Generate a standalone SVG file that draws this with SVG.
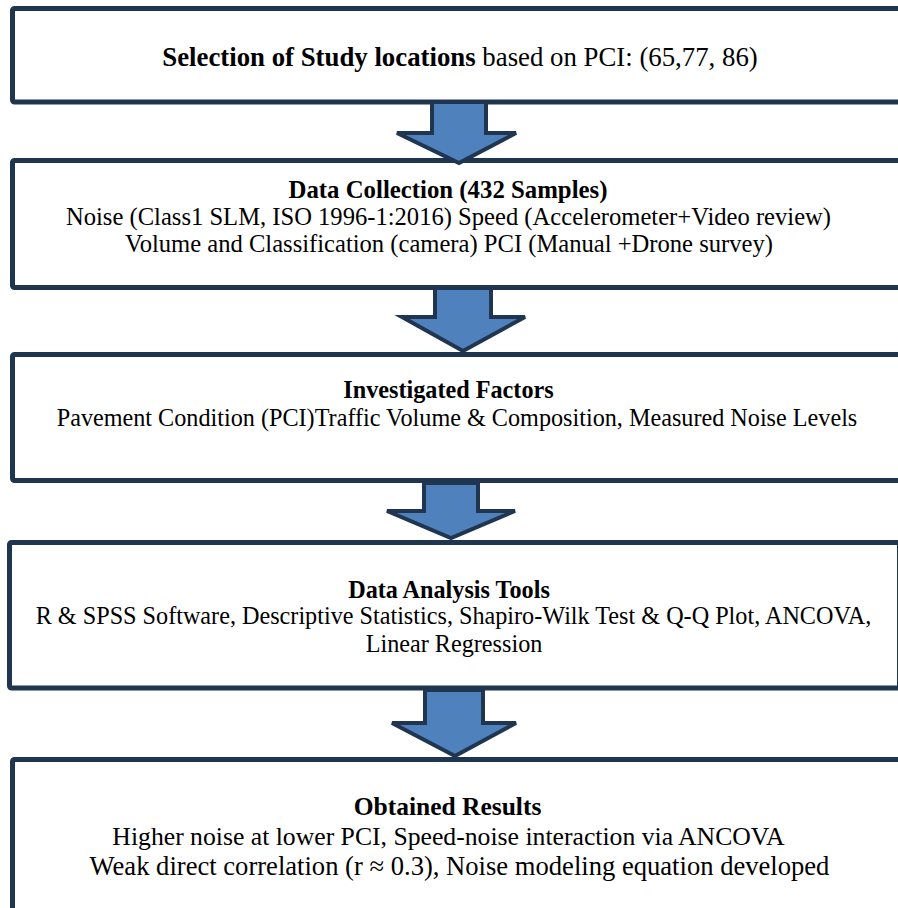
<svg xmlns="http://www.w3.org/2000/svg" width="898" height="908" viewBox="0 0 898 908">
<style>
.box{fill:#ffffff;stroke:#1f3550;stroke-width:5}
.arr{fill:#4f81bd;stroke:#1f3550;stroke-width:4;stroke-linejoin:miter}
text{font-family:"Liberation Serif","Times New Roman",serif;font-size:24.2px;fill:#000;text-anchor:middle}
.b{font-weight:bold}
</style>
<rect width="898" height="908" fill="#ffffff"/>
<g id="n1"><rect class="box" x="12.5" y="8.5" width="900" height="93.5" rx="2"/>
<text x="460" y="66" style="font-size:26.8px"><tspan class="b">Selection of Study locations</tspan> based on PCI: (65,77, 86)</text></g>
<g id="n2"><rect class="box" x="12.5" y="160.5" width="900" height="127" rx="2"/>
<text class="b" x="448" y="197.5" style="font-size:24.8px">Data Collection (432 Samples)</text>
<text x="448.5" y="225" style="font-size:24.6px">Noise (Class1 SLM, ISO 1996-1:2016) Speed (Accelerometer+Video review)</text>
<text x="449" y="251.5" style="font-size:24.6px">Volume and Classification (camera) PCI (Manual +Drone survey)</text></g>
<g id="n3"><rect class="box" x="12.5" y="354.5" width="900" height="126" rx="2"/>
<text class="b" x="448.5" y="397.5">Investigated Factors</text>
<text x="457" y="426">Pavement Condition (PCI)Traffic Volume &amp; Composition, Measured Noise Levels</text></g>
<g id="n4"><rect class="box" x="9.5" y="542.5" width="890" height="145.5" rx="2"/>
<text class="b" x="449" y="597.5">Data Analysis Tools</text>
<text x="453.5" y="624">R &amp; SPSS Software, Descriptive Statistics, Shapiro-Wilk Test &amp; Q-Q Plot, ANCOVA,</text>
<text x="454" y="651.5">Linear Regression</text></g>
<g id="n5"><rect class="box" x="12.5" y="759.5" width="900" height="200" rx="2"/>
<text class="b" x="447.5" y="815" style="font-size:25.5px">Obtained Results</text>
<text x="448.5" y="845" style="font-size:25.7px">Higher noise at lower PCI, Speed-noise interaction via ANCOVA</text>
<text x="459.5" y="875" style="font-size:26.6px">Weak direct correlation (r ≈ 0.3), Noise modeling equation developed</text></g>
<g id="connectors">
<polygon class="arr" points="432,102 486,102 486,133 516,133 459,163 397,133 432,133"/>
<polygon class="arr" points="435,288 491,288 491,317 525,317 463,351 402,317 435,317"/>
<polygon class="arr" points="424,483 478,483 478,511 515,511 451,538 387,511 424,511"/>
<polygon class="arr" points="425,690 483,690 483,723 516,723 455,756 392,723 425,723"/>
</g>
</svg>
